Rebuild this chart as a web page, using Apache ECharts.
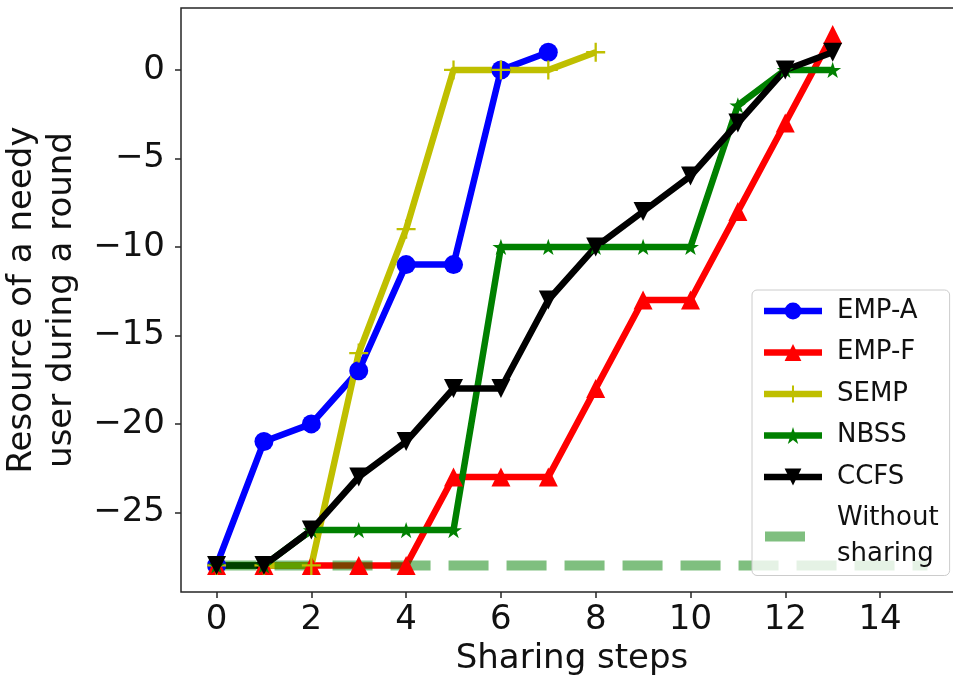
<!DOCTYPE html>
<html>
<head>
<meta charset="utf-8">
<script src="https://cdn.jsdelivr.net/npm/echarts@6/dist/echarts.min.js"></script>
<style>
  html, body { margin: 0; padding: 0; background: #ffffff; }
  #chart { width: 953px; height: 684px; }
</style>
</head>
<body>
<div id="chart"></div>
<script>
// Sharing steps on the x axis
const steps = [0, 1, 2, 3, 4, 5, 6, 7, 8, 9, 10, 11, 12, 13];
// Resource of the needy user after each step, per scheme
const empA = [-28, -21, -20, -17, -11, -11, 0, 1];
const empF = [-28, -28, -28, -28, -28, -23, -23, -23, -18, -13, -13, -8, -3, 2];
const semp = [-28, -28, -28, -16, -9, 0, 0, 0, 1];
const nbss = [-28, -28, -26, -26, -26, -26, -10, -10, -10, -10, -10, -2, 0, 0];
const ccfs = [-28, -28, -26, -23, -21, -18, -18, -13, -10, -8, -6, -3, 0, 1];
// Reference level when nobody shares
const baselineSteps = [0, 1, 2, 3, 4, 5, 6, 7, 8, 9, 10, 11, 12, 13, 14, 15];
const withoutSharing = [-28, -28, -28, -28, -28, -28, -28, -28, -28, -28, -28, -28, -28, -28, -28, -28];
// Tick labels
const xTicks = [0, 2, 4, 6, 8, 10, 12, 14];
const yTicks = [-25, -20, -15, -10, -5, 0];

const FONT = 'DejaVu Sans';
const pairs = (xs, ys) => ys.map((y, i) => [xs[i], y]);

// thin plus and five-point star markers
const PLUS = 'path://M8.8,0h2.4v8.8h8.8v2.4h-8.8v8.8h-2.4v-8.8h-8.8v-2.4h8.8z';
const STAR = 'path://M10,0L12.245,6.91L19.511,6.91L13.633,11.18L15.878,18.09L10,13.82L4.122,18.09L6.367,11.18L0.489,6.91L7.755,6.91Z';

function lineSeries(name, xs, ys, color, symbol, size, rotate) {
  return {
    name: name,
    type: 'line',
    data: pairs(xs, ys),
    symbol: symbol,
    symbolSize: size,
    symbolRotate: rotate || 0,
    symbolKeepAspect: true,
    showAllSymbol: true,
    animation: false,
    color: color,
    itemStyle: { color: color, borderWidth: 0 },
    lineStyle: { color: color, width: 6.5, join: 'round' },
    emphasis: { disabled: true }
  };
}

const chart = echarts.init(document.getElementById('chart'), null, { renderer: 'canvas' });

chart.setOption({
  animation: false,
  backgroundColor: '#ffffff',
  grid: {
    left: 181, top: 8, right: -10, bottom: 92,
    show: true, borderColor: '#262626', borderWidth: 1.5,
    backgroundColor: 'transparent',
    containLabel: false,
    outerBoundsMode: 'none'
  },
  xAxis: {
    type: 'value',
    min: -0.75, max: 15.75,
    name: 'Sharing steps',
    nameLocation: 'middle',
    nameGap: 50,
    nameTextStyle: { fontFamily: FONT, fontSize: 34, color: '#111' },
    axisLine: { show: false, onZero: false },
    axisTick: { show: true, customValues: xTicks, length: 6, lineStyle: { color: '#262626', width: 1.5 } },
    axisLabel: { customValues: xTicks, fontFamily: FONT, fontSize: 34, color: '#111', margin: 11 },
    splitLine: { show: false }
  },
  yAxis: {
    type: 'value',
    min: -29.5, max: 3.5,
    name: 'Resource of a needy\nuser during a round',
    nameLocation: 'middle',
    nameRotate: 90,
    nameGap: 98,
    nameTextStyle: { fontFamily: FONT, fontSize: 34, lineHeight: 40, color: '#111' },
    axisLine: { show: false, onZero: false },
    axisTick: { show: true, customValues: yTicks, length: 6, lineStyle: { color: '#262626', width: 1.5 } },
    axisLabel: {
      customValues: yTicks, fontFamily: FONT, fontSize: 34, color: '#111', margin: 16,
      formatter: v => (v < 0 ? '\u2212' + Math.abs(v) : String(v))
    },
    splitLine: { show: false }
  },
  legend: {
    orient: 'vertical',
    left: 752, top: 290,
    padding: [3, 11, 3, 7],
    itemGap: 5.5,
    itemWidth: 58,
    itemHeight: 21,
    backgroundColor: 'rgba(255,255,255,0.8)',
    borderColor: '#cccccc',
    borderWidth: 1,
    borderRadius: 5,
    selectedMode: false,
    lineStyle: { width: 'inherit', type: 'inherit', color: 'inherit', opacity: 'inherit', cap: 'inherit' },
    textStyle: { fontFamily: FONT, fontSize: 26, lineHeight: 36, color: '#111', padding: [0, 0, 0, 10] },
    formatter: n => (n === 'Without sharing' ? 'Without\nsharing' : n),
    data: [
      'EMP-A', 'EMP-F', 'SEMP', 'NBSS', 'CCFS',
      { name: 'Without sharing', itemStyle: { color: 'rgba(0,0,0,0)', borderWidth: 0 }, lineStyle: { dashOffset: -1 } }
    ]
  },
  series: [
    lineSeries('EMP-A', steps, empA, '#0000ff', 'circle', 19),
    lineSeries('EMP-F', steps, empF, '#ff0000', 'triangle', 19),
    lineSeries('SEMP', steps, semp, '#bfbf00', PLUS, 19),
    lineSeries('NBSS', steps, nbss, '#008000', STAR, 17),
    lineSeries('CCFS', steps, ccfs, '#000000', 'triangle', 19, 180),
    {
      name: 'Without sharing',
      type: 'line',
      data: pairs(baselineSteps, withoutSharing),
      symbol: 'none',
      showSymbol: false,
      animation: false,
      color: '#008000',
      itemStyle: { color: '#008000' },
      lineStyle: { color: '#008000', width: 10, type: [40, 18], opacity: 0.5, cap: 'butt' },
      emphasis: { disabled: true },
      z: 3
    }
  ]
});
</script>
</body>
</html>
